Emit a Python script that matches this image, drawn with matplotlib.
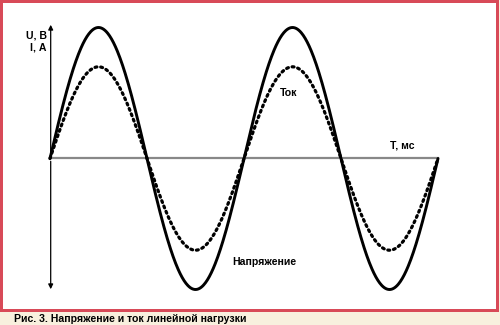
import numpy as np
import matplotlib.pyplot as plt
from matplotlib.patches import Rectangle

# values (idealised 50 Hz signals)
period_ms = 20.0
n_periods = 2
U_amp = 1.0      # voltage amplitude (relative)
I_amp = 0.70     # current amplitude (relative)
labels_axis = ["U, В", "I, А"]
label_time = "T, мс"
label_current = "Ток"
label_voltage = "Напряжение"
caption = "Рис. 3. Напряжение и ток линейной нагрузки"

t = np.linspace(0, n_periods * period_ms, 600)
u = U_amp * np.sin(2 * np.pi * t / period_ms)
i = I_amp * np.sin(2 * np.pi * t / period_ms)

W, H = 500, 325
fig = plt.figure(figsize=(W / 100, H / 100), dpi=100)
fig.patch.set_facecolor("#f8f0de")

# pixel -> data mapping: t=0 at x=50, t=40 at x=438; y=0 at 158, amplitude 1 = 131 px
px_per_ms = 388 / (n_periods * period_ms)
px_per_unit = 131
ax = fig.add_axes([0, 0, 1, 1])
ax.set_xlim(-50 / px_per_ms, (W - 50) / px_per_ms)
ax.set_ylim(-(H - 158.5) / px_per_unit, 158.5 / px_per_unit)
ax.axis("off")

def px(x, y):
    return ((x - 50) / px_per_ms, (158.5 - y) / px_per_unit)

# frame and white panel
ax.add_patch(Rectangle((0, (H - 312) / H), 499 / W, 312 / H, transform=fig.transFigure,
                       facecolor="#d84a58", edgecolor="none", zorder=0, clip_on=False))
ax.add_patch(Rectangle((3 / W, (H - 309) / H), 493 / W, 306 / H, transform=fig.transFigure,
                       facecolor="white", edgecolor="none", zorder=0.5, clip_on=False))

# axes lines
ax.plot([0, n_periods * period_ms], [0, 0], color="#888888", lw=1.6, zorder=1)
x0, ytop = px(50.7, 22)
_, ybot = px(50.7, 292)
ax.annotate("", xy=(x0, ytop), xytext=(x0, 0),
            arrowprops=dict(arrowstyle="-|>", color="black", lw=0.9, mutation_scale=7))
ax.annotate("", xy=(x0, ybot), xytext=(x0, 0),
            arrowprops=dict(arrowstyle="-|>", color="black", lw=0.9, mutation_scale=7))

# curves
ax.plot(t, u, color="black", lw=2.1, solid_capstyle="round", zorder=3)
ax.plot(t, i, color="black", lw=2.3, linestyle=(0, (0.6, 1.2)), dash_capstyle="round", zorder=3)

fkw = dict(fontweight="bold", fontsize=7.6, family="Liberation Sans", color="black")
ax.text(*px(47.5, 35.5), labels_axis[0], ha="right", va="center", **fkw)
ax.text(*px(47, 47), labels_axis[1], ha="right", va="center", **fkw)
ax.text(*px(402, 146), label_time, ha="center", va="center", **fkw)
ax.text(*px(289, 93), label_current, ha="center", va="center", **fkw)
ax.text(*px(264, 262), label_voltage, ha="center", va="center", **fkw)
ax.text(*px(14, 319.5), caption, ha="left", va="center", **fkw)

fig.savefig("out.png", dpi=100, facecolor=fig.get_facecolor())
